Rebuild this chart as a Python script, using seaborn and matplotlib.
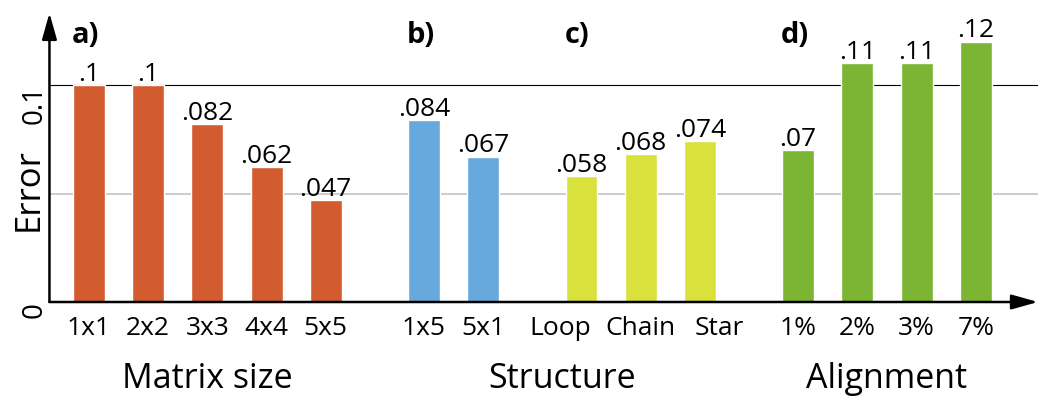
import numpy as np
import pandas as pd
import seaborn as sns
import matplotlib.pyplot as plt
from matplotlib.transforms import blended_transform_factory, ScaledTranslation

# --- data ---
bar_labels = ['1x1', '2x2', '3x3', '4x4', '5x5',
              '1x5', '5x1',
              'Loop', 'Chain', 'Star',
              '1%', '2%', '3%', '7%']
errors = [0.1, 0.1, 0.082, 0.062, 0.047,
          0.084, 0.067,
          0.058, 0.068, 0.074,
          0.07, 0.11, 0.11, 0.12]
panels = ['a)'] * 5 + ['b)'] * 2 + ['c)'] * 3 + ['d)'] * 4
group_titles = ['Matrix size', 'Structure', 'Alignment']
group_members = [['a)'], ['b)', 'c)'], ['d)']]
colors = {'a)': '#D35B30', 'b)': '#67A9DD', 'c)': '#D9E23C', 'd)': '#7BB533'}

# positions: one slot per bar, extra gap between panels
panel_order = list(dict.fromkeys(panels))
gap = 0.66
pos = [i + panel_order.index(p) * gap for i, p in enumerate(panels)]

df = pd.DataFrame({'pos': pos, 'label': bar_labels, 'error': errors, 'panel': panels})

sns.set_theme(style='white')
plt.rcParams['font.family'] = ['Open Sans', 'DejaVu Sans']
plt.rcParams['text.color'] = 'black'

fig = plt.figure(figsize=(10.5, 4), dpi=100)
ax = fig.add_axes([0.0471, 0.245, 0.9414, 0.7225])

sns.barplot(data=df, x='pos', y='error', hue='panel', palette=colors,
            native_scale=True, width=0.54, dodge=False, saturation=1,
            legend=False, ax=ax, zorder=2)

ax.set_xlim(-0.667, 16.03)
ax.set_ylim(0, 0.1332)

# grid lines
ax.axhline(0.1, color='black', lw=0.8, zorder=1)
ax.axhline(0.05, color='#c4c4c4', lw=1.2, zorder=1)

# axes as arrows
for s in ax.spines.values():
    s.set_visible(False)
arrow = dict(arrowstyle='-|>,head_length=1.6,head_width=0.45', color='black',
             lw=1.8, shrinkA=0, shrinkB=0, mutation_scale=10)
ax.annotate('', xy=(1, 0), xytext=(0, 0), xycoords='axes fraction', arrowprops=arrow)
ax.annotate('', xy=(0, 1), xytext=(0, 0), xycoords='axes fraction', arrowprops=arrow)

# ticks
ax.set_xticks(pos, bar_labels)
ax.tick_params(axis='x', length=0, pad=10, labelsize=19, labelcolor='black')
# spread the crowded "Structure" labels a bit, as in the original
nudge = {'Loop': -21, 'Star': 19}
for t in ax.get_xticklabels():
    dx = nudge.get(t.get_text(), 0)
    if dx:
        t.set_transform(t.get_transform() + ScaledTranslation(dx / 100, 0, fig.dpi_scale_trans))

ax.set_yticks([0, 0.1], ['0', '0.1'])
ax.tick_params(axis='y', length=0, pad=0.5, labelcolor='black')
for t in ax.get_yticklabels():
    t.set_fontsize(20)
    t.set_rotation(90)
    t.set_va('top')
ax.set_xlabel('')
ax.set_ylabel('Error', fontsize=25, va='center', color='black')
ax.yaxis.set_label_coords(-0.0207, 0.39)

# value labels
for x, v in zip(pos, errors):
    ax.annotate(f'{v:g}'.lstrip('0'), (x, v), xytext=(0, 3), textcoords='offset points',
                ha='center', va='baseline', fontsize=19)

# panel letters
for p in panel_order:
    first = pos[panels.index(p)]
    ax.text(first - 0.29, 0.1195, p, fontsize=21, fontweight='bold', ha='left', va='baseline')

# group titles
trans = blended_transform_factory(ax.transData, ax.transAxes)
for title, members in zip(group_titles, group_members):
    xs = [x for x, p in zip(pos, panels) if p in members]
    ax.text((min(xs) + max(xs)) / 2, -0.297, title, transform=trans,
            ha='center', va='baseline', fontsize=24.5)

fig.savefig('out.png', dpi=100)
